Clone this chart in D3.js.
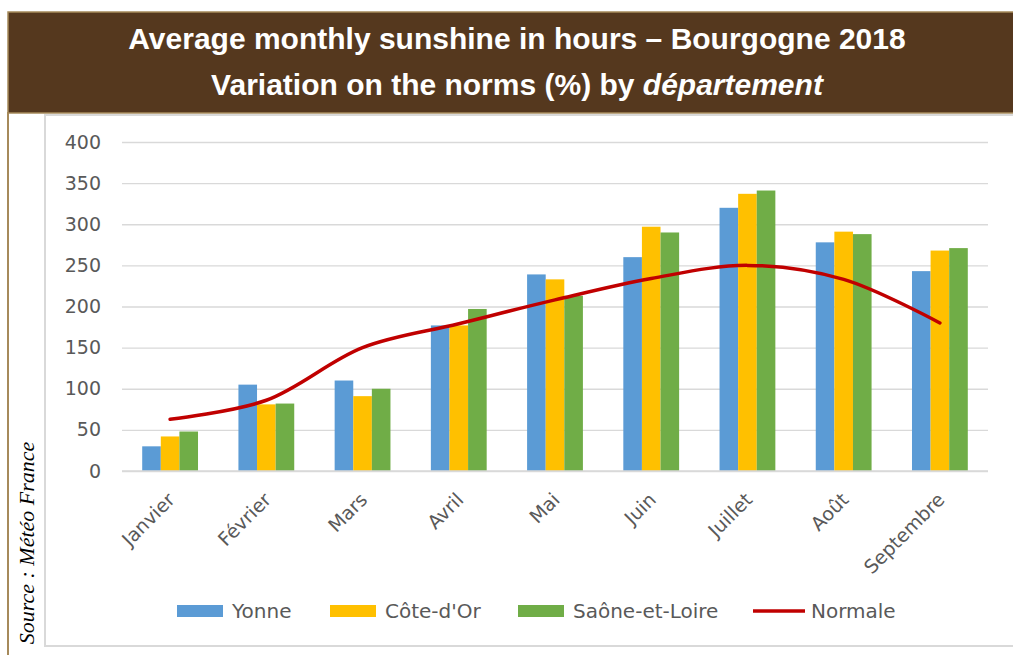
<!DOCTYPE html>
<html>
<head>
<meta charset="utf-8">
<script src="https://cdn.jsdelivr.net/npm/d3@7"></script>
<style>
  body { margin: 0; background: #fff; }
  svg { display: block; }
  .tick-label { font-family: "DejaVu Sans", sans-serif; font-size: 19px; fill: #595959; }
  .legend-label { font-family: "DejaVu Sans", sans-serif; font-size: 20px; fill: #595959; }
  .title { font-family: "Liberation Sans", Arial, sans-serif; font-weight: bold; font-size: 30px; fill: #fff; }
  .source { font-family: "Liberation Serif", "Times New Roman", serif; font-style: italic; font-size: 22px; fill: #000; }
</style>
</head>
<body>
<div id="chart"></div>
<script>
// data
const months = ["Janvier", "Février", "Mars", "Avril", "Mai", "Juin", "Juillet", "Août", "Septembre"];
const seriesNames = ["Yonne", "Côte-d'Or", "Saône-et-Loire"];
const yonne = [30, 105, 110, 177, 239, 260, 320, 278, 243];
const coteDor = [42, 81, 91, 177, 233, 297, 337, 291, 268];
const saone = [48, 82, 100, 197, 213, 290, 341, 288, 271];
const normale = [63, 86, 150, 179, 208, 234, 250, 233, 180];
const yTicks = [0, 50, 100, 150, 200, 250, 300, 350, 400];

const colors = ["#5B9BD5", "#FFC000", "#70AD47"];
const lineColor = "#C00000";

const W = 1013, H = 655;
const svg = d3.select("#chart").append("svg").attr("width", W).attr("height", H);

// outer frame: brown header + tan left rule
svg.append("line")
  .attr("x1", 8).attr("x2", 8).attr("y1", 112).attr("y2", H)
  .attr("stroke", "#A68A5B").attr("stroke-width", 2);
svg.append("rect")
  .attr("x", 8).attr("y", 12).attr("width", W).attr("height", 101)
  .attr("fill", "#55381E").attr("stroke", "#A68A5B").attr("stroke-width", 1.5);

svg.append("text").attr("class", "title")
  .attr("x", 517).attr("y", 49).attr("text-anchor", "middle")
  .text("Average monthly sunshine in hours – Bourgogne 2018");
const t2 = svg.append("text").attr("class", "title")
  .attr("x", 517).attr("y", 95).attr("text-anchor", "middle");
t2.append("tspan").text("Variation on the norms (%) by ");
t2.append("tspan").attr("font-style", "italic").text("département");

// inner chart box
svg.append("rect")
  .attr("x", 45).attr("y", 115).attr("width", 1000).attr("height", 531)
  .attr("fill", "#fff").attr("stroke", "#D9D9D9").attr("stroke-width", 2);

// source
svg.append("text").attr("class", "source")
  .attr("transform", "translate(34,543) rotate(-90)")
  .attr("text-anchor", "middle")
  .text("Source : Météo France");

// scales
const plot = { left: 122, right: 988, top: 142, bottom: 471 };
const x0 = d3.scaleBand().domain(months)
  .range([plot.left, plot.right]).paddingInner(0.42).paddingOuter(0.21);
const x1 = d3.scaleBand().domain(seriesNames).range([0, x0.bandwidth()]);
const y = d3.scaleLinear().domain([0, 400]).range([plot.bottom, plot.top]);

// grid
svg.append("g")
  .attr("transform", `translate(${plot.left},0)`)
  .call(d3.axisLeft(y).tickValues(yTicks).tickSize(-(plot.right - plot.left)).tickFormat(""))
  .call(g => g.select(".domain").remove())
  .call(g => g.selectAll("line").attr("stroke", "#D9D9D9").attr("stroke-width", 1.3));

// y labels
svg.append("g")
  .attr("transform", `translate(${plot.left},0)`)
  .call(d3.axisLeft(y).tickValues(yTicks).tickSize(0).tickPadding(21))
  .call(g => g.select(".domain").remove())
  .call(g => g.selectAll("text").attr("class", "tick-label").attr("fill", null));

// bars
const seriesVals = [yonne, coteDor, saone];
const rows = months.map((m, i) => ({ month: m, vals: seriesNames.map((s, k) => ({ s, k, v: seriesVals[k][i] })) }));
const groups = svg.append("g").selectAll("g").data(rows).enter().append("g")
  .attr("transform", d => `translate(${x0(d.month)},0)`);
groups.selectAll("rect").data(d => d.vals).enter().append("rect")
  .attr("x", d => x1(d.s))
  .attr("width", x1.bandwidth())
  .attr("y", d => y(d.v))
  .attr("height", d => y(0) - y(d.v))
  .attr("fill", d => colors[d.k]);

// x axis line
svg.append("line")
  .attr("x1", plot.left).attr("x2", plot.right).attr("y1", y(0)).attr("y2", y(0))
  .attr("stroke", "#D9D9D9").attr("stroke-width", 1.3);

// x labels
svg.append("g").selectAll("text").data(months).enter().append("text")
  .attr("class", "tick-label")
  .attr("text-anchor", "end")
  .attr("transform", d => `translate(${x0(d) + x0.bandwidth() / 2 + 6},${y(0) + 30}) rotate(-45)`)
  .text(d => d);

// normale line
const line = d3.line()
  .x((d, i) => x0(months[i]) + x0.bandwidth() / 2)
  .y(d => y(d))
  .curve(d3.curveCatmullRom.alpha(0.5));
svg.append("path").datum(normale)
  .attr("d", line)
  .attr("fill", "none")
  .attr("stroke", lineColor)
  .attr("stroke-width", 3.5)
  .attr("stroke-linecap", "round");

// legend
const legendY = 611;
const legendItems = [
  { name: seriesNames[0], x: 177, type: "rect", color: colors[0] },
  { name: seriesNames[1], x: 330, type: "rect", color: colors[1] },
  { name: seriesNames[2], x: 518, type: "rect", color: colors[2] },
  { name: "Normale", x: 753, type: "line", color: lineColor }
];
const leg = svg.append("g").selectAll("g").data(legendItems).enter().append("g")
  .attr("transform", d => `translate(${d.x},${legendY})`);
leg.filter(d => d.type === "rect").append("rect")
  .attr("x", 0).attr("y", -6).attr("width", 46).attr("height", 12)
  .attr("fill", d => d.color);
leg.filter(d => d.type === "line").append("line")
  .attr("x1", 0).attr("x2", 52).attr("y1", 0).attr("y2", 0)
  .attr("stroke", d => d.color).attr("stroke-width", 3.5);
leg.append("text").attr("class", "legend-label")
  .attr("x", d => d.type === "line" ? 58 : 55)
  .attr("dy", "0.35em")
  .text(d => d.name);
</script>
</body>
</html>
